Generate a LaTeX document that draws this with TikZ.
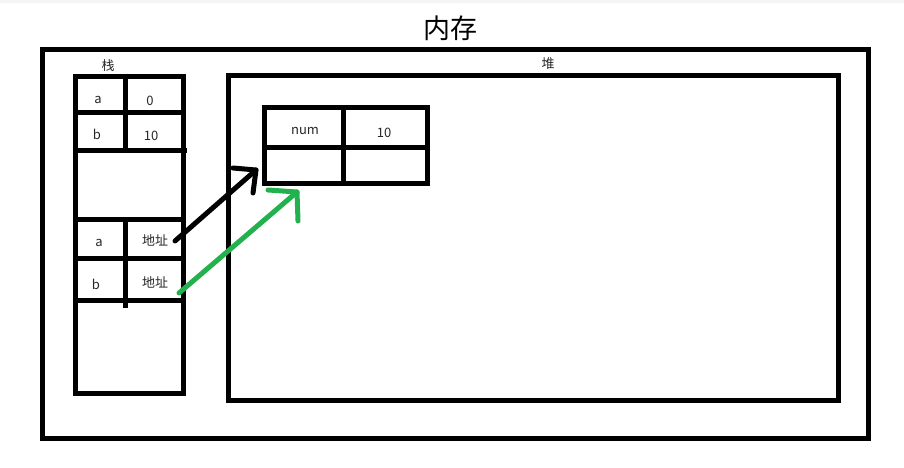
\documentclass[tikz,border=0pt]{standalone}
\usepackage{fontspec}
\setmainfont{Noto Sans CJK SC}
\definecolor{paintgreen}{RGB}{34,177,76}
\begin{document}
\begin{tikzpicture}[x=1pt,y=-1pt,
  box/.style={line width=5pt},
  lbl/.style={font=\fontsize{13}{15}\selectfont, inner sep=0pt, text=black!85},
  ptr/.style={line width=5pt, line cap=round, line join=round}]
\useasboundingbox (0,0) rectangle (904,468);
\fill[gray!8] (0,0) rectangle (904,3);
\node[font=\fontsize{27}{30}\selectfont, inner sep=0pt] (title) at (450,28) {内存};
% memory
\draw[box] (42,50) rectangle (868,438);
% stack
\node[lbl] (stacklbl) at (108,66) {栈};
\draw[box] (75,77) rectangle (183,393);
\draw[box] (75,113) -- (183,113);
\draw[box] (75,150) -- (187,150);
\draw[box] (75,219) -- (183,219);
\draw[box] (75,258) -- (183,258);
\draw[box] (75,300) -- (183,300);
\draw[box] (125,77) -- (125,150);
\draw[box] (125,219) -- (125,308);
\node[lbl] (sa1) at (98,100) {a};
\node[lbl] (sv1) at (150,101) {0};
\node[lbl] (sb1) at (97,134) {b};
\node[lbl] (sv2) at (151,136) {10};
\node[lbl] (sa2) at (99,243) {a};
\node[lbl] (sp1) at (155,240) {地址};
\node[lbl] (sb2) at (96,284) {b};
\node[lbl] (sp2) at (155,282) {地址};
% heap
\node[lbl] (heaplbl) at (548,64) {堆};
\draw[box] (228,76) rectangle (838,400);
\draw[box] (264,108) rectangle (427,183);
\draw[box] (264,147) -- (427,147);
\draw[box] (343,108) -- (343,183);
\node[lbl] (num) at (305,131) {num};
\node[lbl] (numv) at (384,133) {10};
% pointers
\coordinate (bs) at (175,241);
\coordinate (bt) at (256,170);
\coordinate (gs) at (179,293);
\coordinate (gt) at (297,192);
\draw[ptr] (bs) -- (bt);
\draw[ptr] (233,168) -- (bt) -- (253,193);
\draw[ptr, paintgreen] (gs) -- (gt);
\draw[ptr, paintgreen] (268,190) -- (gt) -- (298,221);
\end{tikzpicture}
\end{document}
